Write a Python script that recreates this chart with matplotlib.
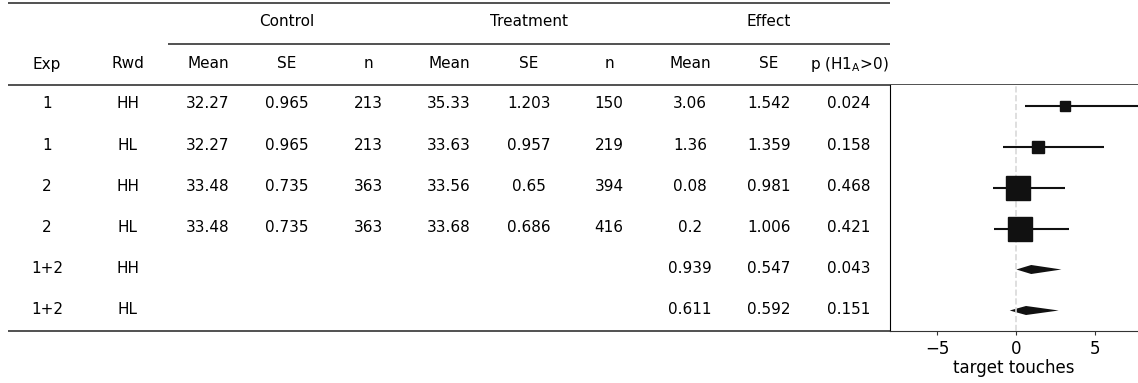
import matplotlib.pyplot as plt
import numpy as np

exp = ['1', '1', '2', '2', '1+2', '1+2']
rwd = ['HH', 'HL', 'HH', 'HL', 'HH', 'HL']
ctrl_mean = ['32.27', '32.27', '33.48', '33.48', '', '']
ctrl_se = ['0.965', '0.965', '0.735', '0.735', '', '']
ctrl_n = ['213', '213', '363', '363', '', '']
trt_mean = ['35.33', '33.63', '33.56', '33.68', '', '']
trt_se = ['1.203', '0.957', '0.65', '0.686', '', '']
trt_n = ['150', '219', '394', '416', '', '']
eff_mean = [3.06, 1.36, 0.08, 0.2, 0.939, 0.611]
eff_se = [1.542, 1.359, 0.981, 1.006, 0.547, 0.592]
p_val = ['0.024', '0.158', '0.468', '0.421', '0.043', '0.151']
ci_lo = [0.57, -0.82, -1.48, -1.39, 0.0, -0.42]
ci_hi = [8.3, 5.57, 3.1, 3.33, 2.85, 2.68]
is_pooled = [False, False, False, False, True, True]

col_headers = ['Exp', 'Rwd', 'Mean', 'SE', 'n', 'Mean', 'SE', 'n', 'Mean', 'SE', 'p (H1$_\\mathrm{A}$>0)']
groups = ['Control', 'Treatment', 'Effect']

W, H = 1138, 383
fig = plt.figure(figsize=(W / 100, H / 100), dpi=100)

# table drawn in pixel coordinates
tab = fig.add_axes([0, 0, 1, 1])
tab.set_xlim(0, W)
tab.set_ylim(H, 0)
tab.axis('off')

col_x = [47, 128, 208, 287, 368, 449, 529, 609, 690, 769, 849]
row_y = [104 + 41.2 * i for i in range(6)]
fs = 11
lc = '0.2'

for g, x in zip(groups, [287, 529, 769]):
    tab.text(x, 21, g, ha='center', va='center', fontsize=fs)
for h, x in zip(col_headers, col_x):
    tab.text(x, 64, h, ha='center', va='center', fontsize=fs)

tab.hlines(3, 8, 890, color=lc, lw=1.2)
tab.hlines(44, 168, 890, color=lc, lw=1.2)
tab.hlines(85, 8, W, color=lc, lw=1.2)
tab.hlines(331, 8, W, color=lc, lw=1.2)

cols = [exp, rwd, ctrl_mean, ctrl_se, ctrl_n, trt_mean, trt_se, trt_n,
        [str(v) for v in eff_mean], [str(v) for v in eff_se], p_val]
for c, x in zip(cols, col_x):
    for v, y in zip(c, row_y):
        tab.text(x, y, v, ha='center', va='center', fontsize=fs)

# forest plot
ax = fig.add_axes([890 / W, 1 - 331 / H, 1 - 890 / W, (331 - 85) / H])
ax.set_xlim(-8, 7.7)
ax.set_ylim(5.5, -0.5)
ax.axvline(0, color='0.85', ls='--', lw=1.2, zorder=5)
weights = 1 / np.array(eff_se) ** 2
for i in range(6):
    m = eff_mean[i]
    if is_pooled[i]:
        xs = [ci_lo[i], m, ci_hi[i], m]
        ys = [i, i - 0.11, i, i + 0.11]
        ax.fill(xs, ys, color='#111111', lw=0)
    else:
        ax.hlines(i, ci_lo[i], ci_hi[i], color='#111111', lw=1.5)
        ax.plot(m, i, 's', color='#111111', ms=weights[i] * 17, zorder=6)
ax.set_yticks([])
ax.set_xticks([-5, 0, 5])
ax.tick_params(labelsize=12, length=3, color=lc)
ax.set_xlabel('target touches', fontsize=12, labelpad=1)
for s in ['top', 'right']:
    ax.spines[s].set_visible(False)
ax.spines['left'].set_color('black')
ax.spines['bottom'].set_color(lc)

fig.savefig('out.png', dpi=100)
